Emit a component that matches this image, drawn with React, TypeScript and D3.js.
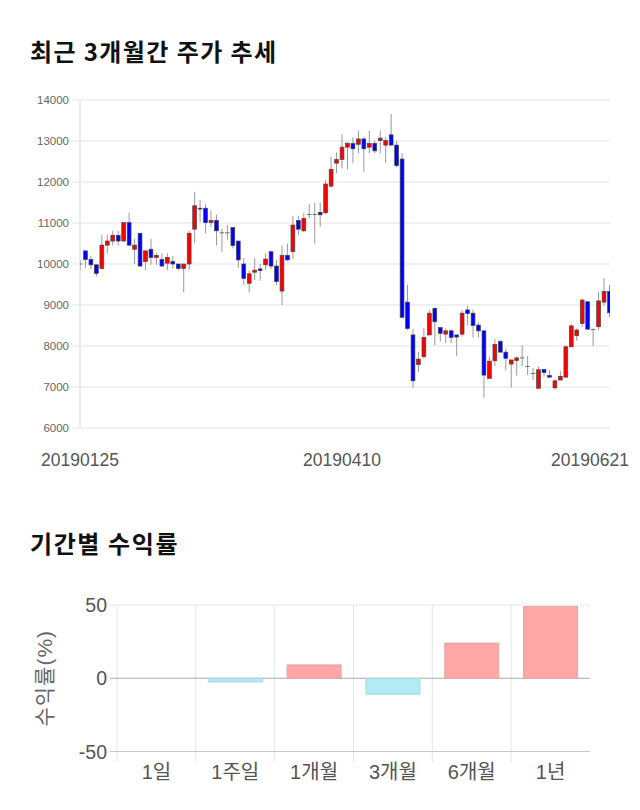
import React from "react";
import * as d3 from "d3";

// ---- Candlestick data (KRW) ----
const opens = [10000,10320,10110,9980,9890,10460,10560,10700,10560,11010,10360,10750,10060,10360,10160,10110,10020,10060,10000,9890,10000,10850,11360,11360,11010,11060,10760,10760,10890,10560,10000,9530,9800,9880,9980,10300,9950,9340,10210,10300,11060,10810,11210,11210,11260,11250,11900,12460,12550,12850,12940,12920,13050,12850,12940,13010,12900,13150,12900,12560,9070,8270,7550,7740,8270,8920,8450,8290,8370,8270,8290,8880,8800,8510,8370,7210,7640,8110,7850,7560,7650,7710,7500,7330,6970,7430,7280,6980,7170,7240,7980,8250,8550,9080,8400,8470,9070,9330];
const highs = [10100,10320,10200,9990,10710,10710,10810,10810,11010,11250,10610,10750,10320,10610,10280,10260,10260,10200,10000,10000,10810,11760,11560,11460,11300,11200,10850,10950,10890,10560,10150,9830,10150,10000,10260,10300,10100,10450,10500,11170,11170,11250,11460,11500,11500,12050,12620,12720,13160,12980,13090,13250,13090,13250,13010,13250,13090,13660,13000,12700,9490,8410,7860,8430,8880,8920,8450,8430,8410,8270,8880,8980,8880,8580,8370,7740,8170,8150,7940,7660,7740,8020,7760,7460,7500,7430,7410,7190,7390,8020,8530,8430,9160,9080,8430,9330,9650,9490];
const lows = [9840,9910,9870,9690,9870,10260,10450,10450,10550,10450,10000,9940,9850,9980,9980,9930,9850,9890,9850,9310,9850,10500,11030,10750,10910,10450,10300,10590,10380,9910,9490,9300,9610,9590,9850,9880,9490,9000,10080,10120,10710,10780,11110,10500,10910,11210,11860,12210,12330,12310,12460,12700,12250,12700,12700,12700,12460,12890,12360,8690,8390,6980,7360,7680,8270,8020,8110,8070,8070,7760,8230,8510,8210,8210,6740,7210,7510,7850,7400,6990,7280,7510,7290,7170,6970,7250,7240,6940,7170,7240,7980,8130,8460,8410,8000,8390,8980,8700];
const closes = [10000,10110,9980,9770,10460,10560,10700,10560,11010,10460,10460,9950,10320,10160,10210,9950,10160,10000,9890,10000,10750,11420,11340,11010,11060,10810,10760,10760,10450,10100,9650,9760,9850,9840,10120,9950,9570,10210,10100,10950,10850,11110,11210,11210,11200,11950,12310,12550,12850,12940,12810,13050,12810,12940,12760,13070,13010,12900,12400,8700,8430,7150,7680,8210,8800,8590,8310,8370,8210,8220,8800,8790,8500,8370,7290,7630,8040,7850,7700,7660,7710,7710,7500,7330,7420,7350,7240,7150,7260,7980,8490,8390,9120,8410,8400,9100,9330,8810];
const priceTicks = [6000, 7000, 8000, 9000, 10000, 11000, 12000, 13000, 14000];
const dateLabels = ["20190125", "20190410", "20190621"];
const dateLabelIndex = [0, 48, 97];

// ---- Period returns (%) ----
const periods = ["1일", "1주일", "1개월", "3개월", "6개월", "1년"];
const returns = [0, -2.5, 9.1, -10.9, 24, 48.9];
const returnTicks = [-50, 0, 50];

const NUM_FONT = "'Liberation Sans', Arial, 'Noto Sans CJK KR', sans-serif";
const KR_FONT = "'Noto Sans CJK KR', 'Noto Sans', sans-serif";

export default function App() {
  const W = 640;
  const H = 810;

  // candlestick scales
  const left = 80;
  const right = 610;
  const x = d3.scaleLinear().domain([0, opens.length - 1]).range([80, 609.5]);
  const y = d3.scaleLinear().domain([6000, 14000]).range([428, 100]);
  const bodyW = 3.8;

  // bar chart scales
  const bx = d3.scaleBand<string>().domain(periods).range([117, 590]).padding(0);
  const by = d3.scaleLinear().domain([-50, 50]).range([751.5, 605]);
  const barW = bx.bandwidth() * 0.685;

  return (
    <div style={{ position: "absolute", left: 0, top: 0, width: W, height: H, background: "#fff" }}>
      <svg width={W} height={H} viewBox={`0 0 ${W} ${H}`} style={{ display: "block" }}>
        <defs>
          <clipPath id="plotClip">
            <rect x={left} y={90} width={right - left} height={345} />
          </clipPath>
        </defs>

        {/* Title 1 */}
        <text x={30} y={61} fontFamily={KR_FONT} fontWeight={700} fontSize={24} letterSpacing={1.4} fill="#111">
          최근 3개월간 주가 추세
        </text>

        {/* price gridlines + labels */}
        {priceTicks.map((t) => (
          <g key={t}>
            <line x1={72} x2={right} y1={y(t)} y2={y(t)} stroke="#e3e3e3" strokeWidth={1} />
            <text x={69} y={y(t)} dy="0.35em" textAnchor="end" fontFamily={NUM_FONT} fontSize={11.5} fill="#666">
              {t}
            </text>
          </g>
        ))}
        <line x1={left} x2={left} y1={y(14000)} y2={y(6000)} stroke="#e3e3e3" strokeWidth={1.5} />

        {/* candles */}
        <g clipPath="url(#plotClip)">
          {opens.map((o, i) => {
            const c = closes[i];
            const cx = x(i);
            const top = y(Math.max(o, c));
            const bot = y(Math.min(o, c));
            const up = c > o;
            const flat = c === o;
            const fill = flat ? "#333" : up ? "#ff0000" : "#0000ff";
            return (
              <g key={i}>
                <line x1={cx} x2={cx} y1={y(highs[i])} y2={y(lows[i])} stroke="#999" strokeWidth={1} />
                <rect
                  x={cx - bodyW / 2}
                  y={top}
                  width={bodyW}
                  height={Math.max(bot - top, 0.01)}
                  fill={fill}
                  stroke="#444"
                  strokeWidth={0.7}
                />
              </g>
            );
          })}
        </g>

        {/* date labels */}
        {dateLabels.map((d, k) => (
          <text
            key={d}
            x={Math.min(x(dateLabelIndex[k]), 590)}
            y={466}
            textAnchor="middle"
            fontFamily={NUM_FONT}
            fontSize={17.5}
            fill="#555"
          >
            {d}
          </text>
        ))}

        {/* Title 2 */}
        <text x={30} y={553} fontFamily={KR_FONT} fontWeight={700} fontSize={24} letterSpacing={1.6} fill="#111">
          기간별 수익률
        </text>

        {/* bar chart vertical grid */}
        {periods.map((p) => (
          <line key={p} x1={bx(p)!} x2={bx(p)!} y1={by(50)} y2={762} stroke="#e6e6e6" strokeWidth={1} />
        ))}

        {/* bar chart horizontal grid + labels */}
        {returnTicks.map((t) => (
          <g key={t}>
            <line
              x1={110}
              x2={590}
              y1={by(t)}
              y2={by(t)}
              stroke={t === 0 ? "#aaa" : t === -50 ? "#c8c8c8" : "#e6e6e6"}
              strokeWidth={1}
            />
            <text x={107} y={by(t)} dy="0.36em" textAnchor="end" fontFamily={NUM_FONT} fontSize={19.5} fill="#555">
              {t}
            </text>
          </g>
        ))}

        {/* bars */}
        {periods.map((p, i) => {
          const v = returns[i];
          if (v === 0) return null;
          const cx = bx(p)! + bx.bandwidth() / 2;
          const y0 = by(Math.max(v, 0));
          const y1 = by(Math.min(v, 0));
          return (
            <rect
              key={p}
              x={cx - barW / 2}
              y={y0}
              width={barW}
              height={y1 - y0}
              fill={v > 0 ? "#ffa6a6" : "#b2ebf2"}
              stroke={v > 0 ? "#e2a5a5" : "#a3d9df"}
              strokeWidth={1}
            />
          );
        })}

        {/* x labels */}
        {periods.map((p) => (
          <text
            key={p}
            x={bx(p)! + bx.bandwidth() / 2}
            y={779}
            textAnchor="middle"
            fontFamily={NUM_FONT}
            fontSize={20}
            fill="#555"
          >
            {p}
          </text>
        ))}

        {/* y axis label */}
        <text
          transform={`translate(52, ${by(0)}) rotate(-90)`}
          textAnchor="middle"
          fontFamily={NUM_FONT}
          fontSize={21}
          letterSpacing={1}
          fill="#666"
        >
          수익률(%)
        </text>
      </svg>
    </div>
  );
}
